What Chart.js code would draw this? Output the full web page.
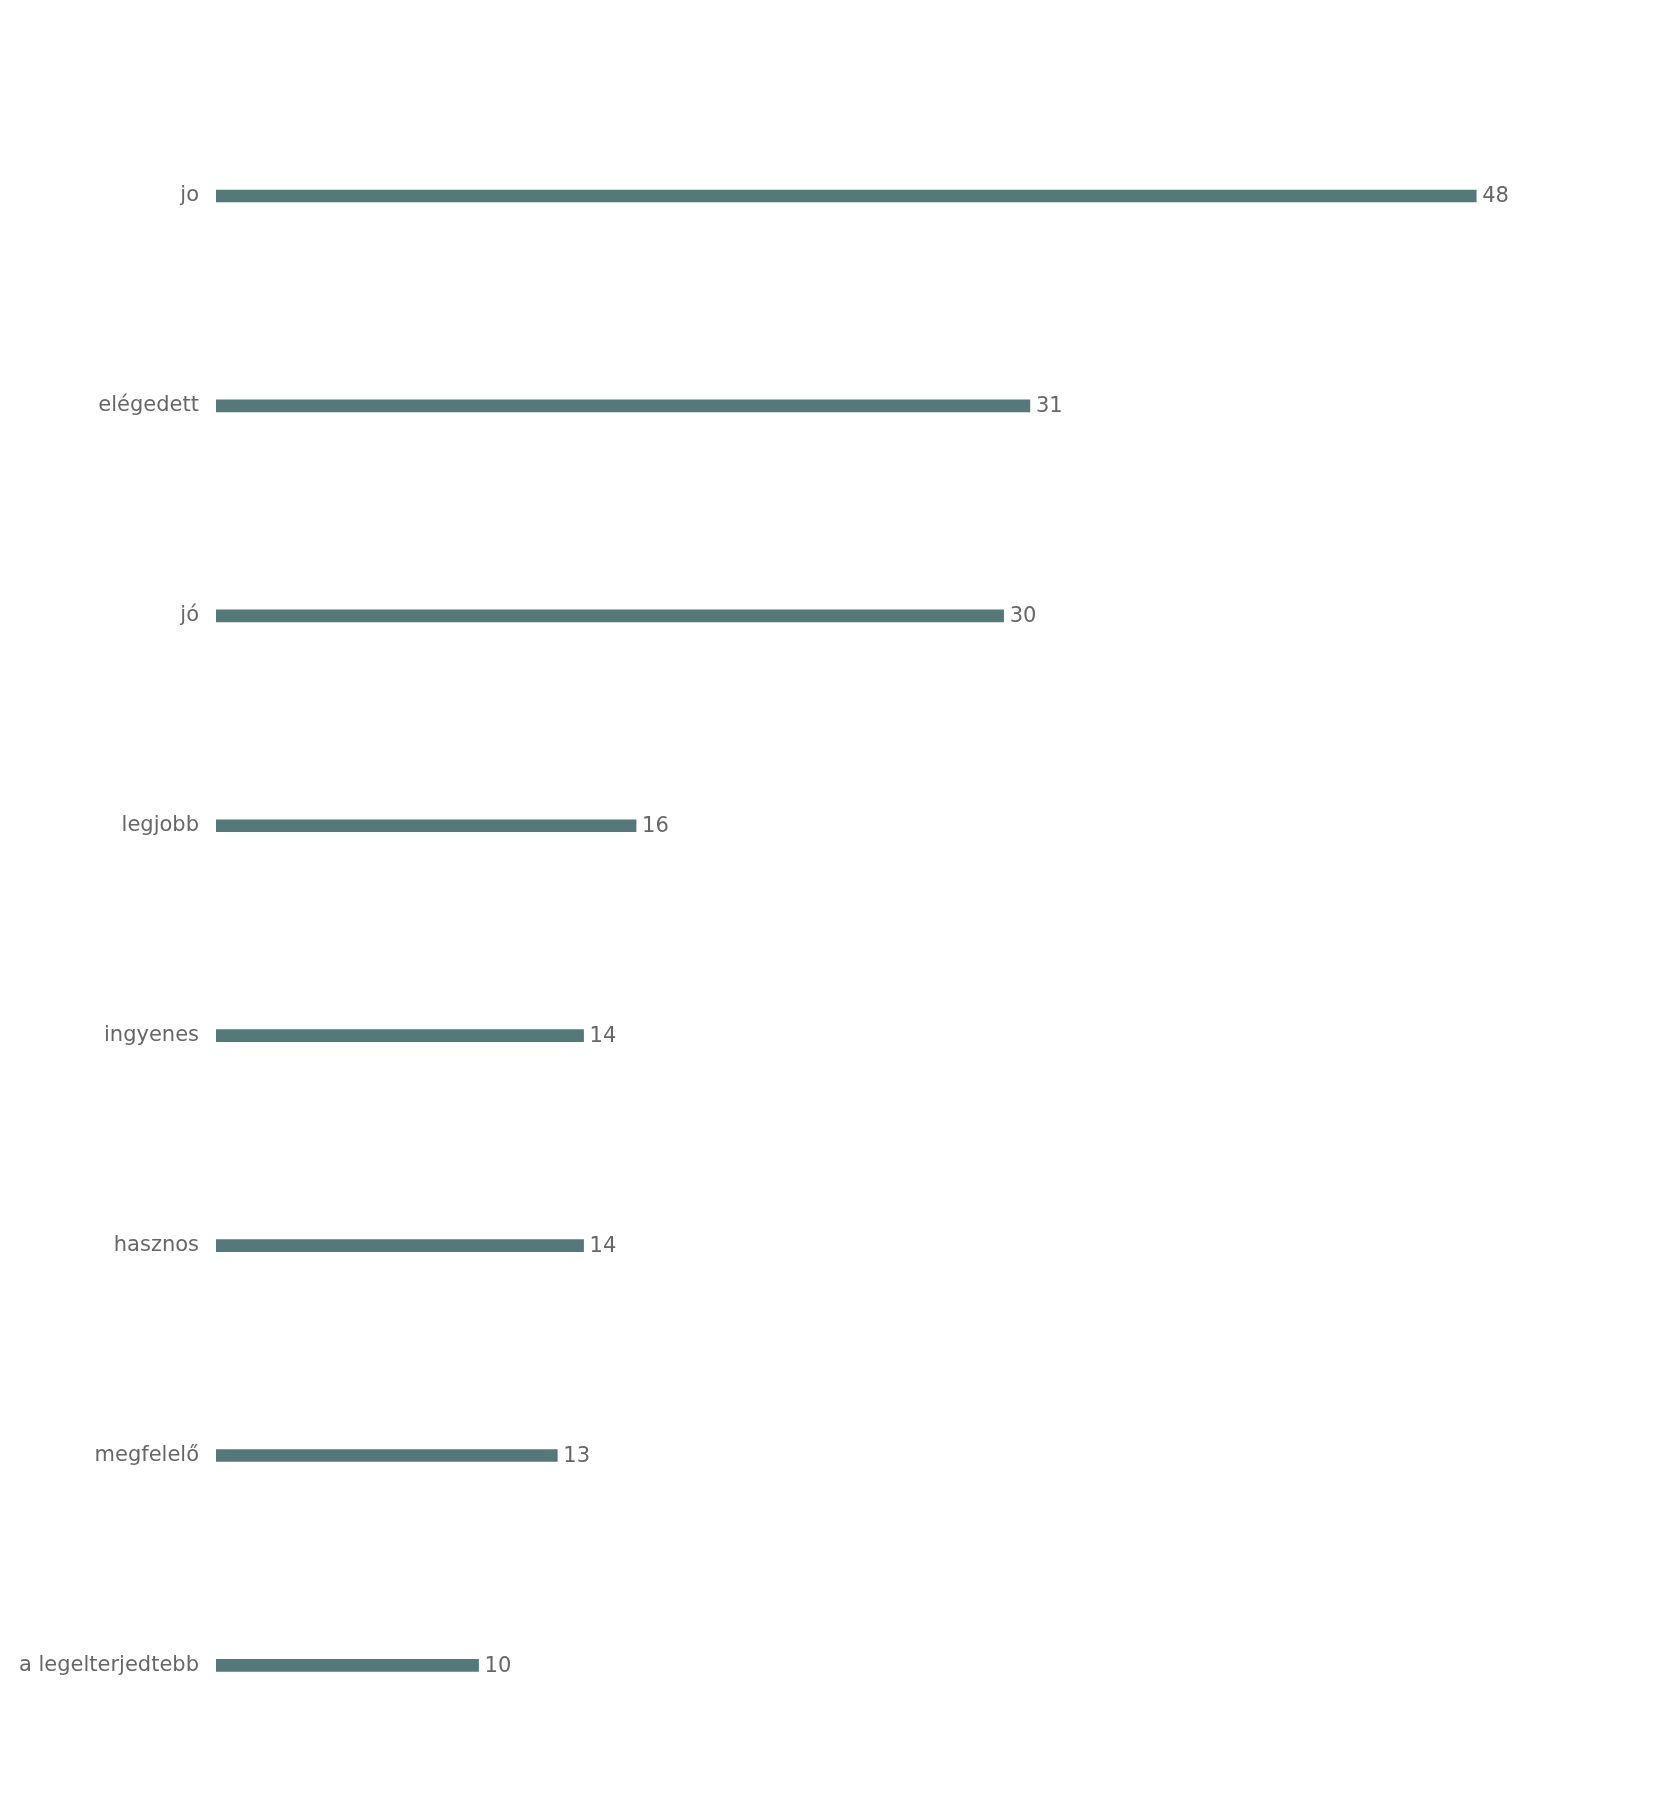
<!DOCTYPE html>
<html>
<head>
<meta charset="utf-8">
<script src="https://cdn.jsdelivr.net/npm/chart.js@4"></script>
<style>
  body { margin: 0; background: #fff; }
  #wrap { width: 1680px; height: 1800px; }
</style>
</head>
<body>
<div id="wrap"><canvas id="wordChart"></canvas></div>
<script>
const categories = ['jo', 'elégedett', 'jó', 'legjobb', 'ingyenes', 'hasznos', 'megfelelő', 'a legelterjedtebb'];
const counts = [48, 31, 30, 16, 14, 14, 13, 10];

const barColor = '#557878';
const textColor = '#666666';
const fontFamily = '"DejaVu Sans", sans-serif';

// draw the count just after each bar
const valueLabels = {
    id: 'valueLabels',
    afterDatasetsDraw(chart) {
        const ctx = chart.ctx;
        const meta = chart.getDatasetMeta(0);
        ctx.save();
        ctx.font = '21px ' + fontFamily;
        ctx.fillStyle = textColor;
        ctx.textAlign = 'left';
        ctx.textBaseline = 'middle';
        meta.data.forEach((bar, i) => {
            ctx.fillText(String(counts[i]), bar.x + 6, bar.y + 1);
        });
        ctx.restore();
    }
};

new Chart(document.getElementById('wordChart'), {
    type: 'bar',
    data: {
        labels: categories,
        datasets: [{
            data: counts,
            backgroundColor: barColor,
            barThickness: 12
        }]
    },
    options: {
        indexAxis: 'y',
        responsive: true,
        maintainAspectRatio: false,
        animation: false,
        layout: { padding: { top: 91, bottom: 29, right: 20, left: 0 } },
        plugins: {
            legend: { display: false },
            tooltip: { enabled: false }
        },
        scales: {
            x: { display: false, min: 0, max: 55 },
            y: {
                grid: { display: false, drawTicks: false },
                border: { display: false },
                ticks: {
                    color: textColor,
                    padding: 17,
                    font: { family: fontFamily, size: 21 }
                },
                afterFit(scale) { scale.width = 216; }
            }
        }
    },
    plugins: [valueLabels]
});
</script>
</body>
</html>
